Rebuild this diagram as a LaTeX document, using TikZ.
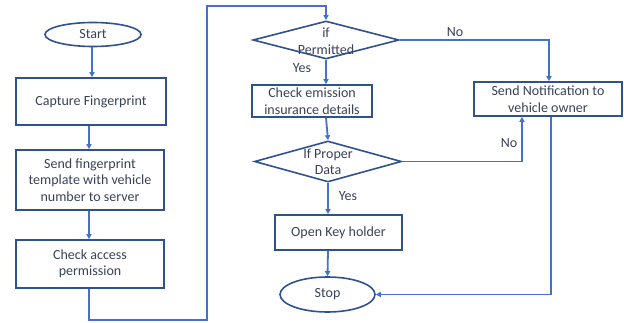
\documentclass[tikz,border=0pt]{standalone}
\usepackage{fontspec}
\setmainfont{Carlito}
\usetikzlibrary{shapes.geometric,arrows.meta}
\definecolor{lineblue}{HTML}{4472C4}
\definecolor{boxblue}{HTML}{2F528F}
\definecolor{txt}{HTML}{3A4258}
\begin{document}
\begin{tikzpicture}[x=1pt,y=-1pt,
  every node/.style={font=\fontsize{14}{16.5}\selectfont, text=txt},
  procbox/.style={draw=boxblue, line width=1.6pt, rectangle, align=center, inner sep=0pt},
  term/.style={draw=boxblue, line width=1.6pt, ellipse, inner sep=0pt},
  decide/.style={draw=boxblue, line width=1.6pt, diamond, inner sep=0pt},
  flow/.style={draw=lineblue, line width=1.8pt, -{Triangle[length=5pt,width=5pt]}},
  lbl/.style={inner sep=0pt}]
\useasboundingbox (0,0) rectangle (624,323);
\fill[white] (0,0) rectangle (624,323);
\node[term, minimum width=96pt, minimum height=24pt] (start) at (93,34.5) {Start};
\node[procbox, minimum width=150pt, minimum height=47pt] (cap) at (91,101.5) {Capture Fingerprint};
\node[procbox, minimum width=148pt, minimum height=60pt] (send) at (90,180) {Send fingerprint\\template with vehicle\\number to server};
\node[procbox, minimum width=148pt, minimum height=48pt] (chk) at (90,264) {Check access\\permission};
\node[decide, minimum width=146pt, minimum height=38pt, shape aspect=3.84] (d1) at (326,40) {};
\node[lbl, align=center] (d1t) at (326,41) {if\\Permitted};
\node[procbox, minimum width=120pt, minimum height=32pt] (emis) at (312,101) {Check emission\\insurance details};
\node[decide, minimum width=147pt, minimum height=41pt, shape aspect=3.6] (d2) at (328,161.5) {};
\node[lbl, align=center] (d2t) at (328,162) {If Proper\\Data};
\node[procbox, minimum width=127pt, minimum height=35pt] (key) at (338.5,232.5) {Open Key holder};
\node[term, minimum width=95pt, minimum height=35pt] (stop) at (327.5,294.5) {Stop};
\node[procbox, minimum width=148pt, minimum height=34pt] (notif) at (548,99) {Send Notification to\\vehicle owner};
\coordinate (c1) at (89,320);
\coordinate (c2) at (207,6);
% connectors
\draw[flow] ([xshift=-1pt]start.south) -- ([xshift=-1pt]start.south |- cap.north);
\draw[flow] ([xshift=-2pt]cap.south) -- ([xshift=-2pt]cap.south |- send.north);
\draw[flow] ([xshift=-1pt]send.south) -- ([xshift=-1pt]send.south |- chk.north);
\draw[flow] ([xshift=-1pt]chk.south) -- (c1) -| (c2) -| (d1.north);
\draw[flow] (d1.south) -- (d1.south |- emis.north);
\draw[flow] (d1.south |- emis.south) -- (d2.north);
\draw[flow] (d2.south) -- (d2.south |- key.north);
\draw[flow] (d2.south |- key.south) -- (stop.north);
\draw[flow] (d1.east) -| ([xshift=1pt]notif.north);
\draw[flow] (d2.east) -| ([xshift=-26pt]notif.south);
\draw[flow] ([xshift=3pt]notif.south) |- (stop.east);
% labels
\node[lbl] (no1) at (455,32) {No};
\node[lbl] (yes1) at (302,68) {Yes};
\node[lbl] (no2) at (509,143) {No};
\node[lbl] (yes2) at (348,196) {Yes};
\end{tikzpicture}
\end{document}
